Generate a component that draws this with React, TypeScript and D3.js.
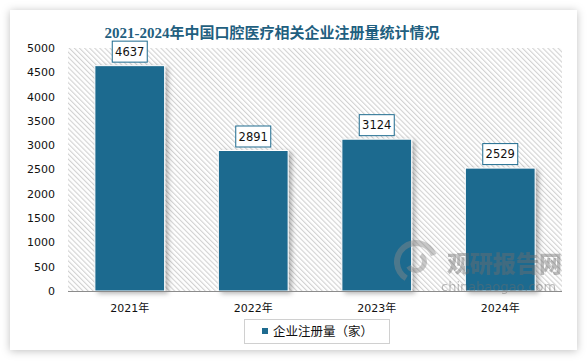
import React, { useRef, useEffect } from 'react';
import * as d3 from 'd3';

const years = ['2021年', '2022年', '2023年', '2024年'];
const counts = [4637, 2891, 3124, 2529];
const yTicks = [0, 500, 1000, 1500, 2000, 2500, 3000, 3500, 4000, 4500, 5000];
const title = '2021-2024年中国口腔医疗相关企业注册量统计情况';
const seriesName = '企业注册量（家）';

const App: React.FC = () => {
  const svgRef = useRef<SVGSVGElement | null>(null);

  useEffect(() => {
    const svg = d3.select(svgRef.current);
    svg.selectAll('*').remove();

    const width = 588;
    const height = 361;
    const margin = { top: 48, right: 26, bottom: 70, left: 68 };
    const barColor = '#1e6b8f';
    const numFont = '"DejaVu Sans", "Noto Sans CJK SC", sans-serif';

    const defs = svg.append('defs');
    const hatch = defs.append('pattern')
      .attr('id', 'hatch')
      .attr('patternUnits', 'userSpaceOnUse')
      .attr('width', 3.6)
      .attr('height', 3.6)
      .attr('patternTransform', 'rotate(-45)');
    hatch.append('rect').attr('width', 3.6).attr('height', 3.6).attr('fill', '#fff');
    hatch.append('rect')
      .attr('x', 0).attr('y', 0).attr('width', 1.1).attr('height', 3.6)
      .attr('fill', '#d2d2d2');

    const cardShadow = defs.append('filter').attr('id', 'cardShadow')
      .attr('x', '-5%').attr('y', '-5%').attr('width', '110%').attr('height', '115%');
    cardShadow.append('feDropShadow')
      .attr('dx', 0).attr('dy', 1).attr('stdDeviation', 4)
      .attr('flood-color', '#000').attr('flood-opacity', 0.25);

    const barShadow = defs.append('filter').attr('id', 'barShadow')
      .attr('x', '-20%').attr('y', '-10%').attr('width', '150%').attr('height', '120%');
    barShadow.append('feDropShadow')
      .attr('dx', 3).attr('dy', 2).attr('stdDeviation', 2.5)
      .attr('flood-color', '#000').attr('flood-opacity', 0.3);

    // card
    svg.append('rect')
      .attr('x', 10).attr('y', 10).attr('width', 567).attr('height', 340)
      .attr('fill', '#fff').attr('filter', 'url(#cardShadow)');

    const xScale = d3.scaleBand<string>()
      .domain(years)
      .range([margin.left, width - margin.right])
      .paddingInner(0.435)
      .paddingOuter(0.2175);

    const yScale = d3.scaleLinear()
      .domain([0, 5000])
      .range([height - margin.bottom, margin.top]);

    // hatched plot background
    svg.append('rect')
      .attr('x', margin.left)
      .attr('y', yScale(5000))
      .attr('width', width - margin.right - margin.left)
      .attr('height', yScale(0) - yScale(5000))
      .attr('fill', 'url(#hatch)');

    // bars
    svg.append('g')
      .selectAll('rect')
      .data(counts)
      .enter()
      .append('rect')
      .attr('x', (_, i) => xScale(years[i]) || 0)
      .attr('y', d => yScale(d))
      .attr('width', xScale.bandwidth())
      .attr('height', d => yScale(0) - yScale(d))
      .attr('fill', barColor)
      .attr('stroke', '#fff')
      .attr('stroke-width', 1)
      .attr('filter', 'url(#barShadow)');

    // watermark (drawn over the bars)
    const wm = svg.append('g').attr('opacity', 0.45);
    wm.append('path')
      .attr('d', d3.arc()({ innerRadius: 16, outerRadius: 22, startAngle: -2.6, endAngle: 1.2 }) as string)
      .attr('transform', 'translate(416,262)')
      .attr('fill', '#8a8a8a');
    wm.append('path')
      .attr('d', d3.arc()({ innerRadius: 6, outerRadius: 11, startAngle: 0.6, endAngle: 4.2 }) as string)
      .attr('transform', 'translate(416,262)')
      .attr('fill', '#8a8a8a');
    wm.append('text')
      .attr('x', 447).attr('y', 272)
      .attr('font-family', '"Noto Sans CJK SC", sans-serif')
      .attr('font-weight', 900)
      .attr('font-size', 23)
      .attr('fill', '#6e6e6e')
      .text('观研报告网');
    wm.append('text')
      .attr('x', 441).attr('y', 291)
      .attr('font-family', '"DejaVu Sans", sans-serif')
      .attr('font-size', 13)
      .attr('fill', '#6e6e6e')
      .text('chinabaogao.com');

    // value labels
    const labels = svg.append('g')
      .selectAll('g')
      .data(counts)
      .enter()
      .append('g')
      .attr('transform', (d, i) => `translate(${(xScale(years[i]) || 0) + xScale.bandwidth() / 2},${yScale(d) - 14})`);
    labels.append('rect')
      .attr('x', -17.5).attr('y', -10.5).attr('width', 35).attr('height', 21)
      .attr('fill', '#fff').attr('stroke', barColor).attr('stroke-width', 1);
    labels.append('text')
      .attr('text-anchor', 'middle')
      .attr('dy', '0.36em')
      .attr('font-family', numFont)
      .attr('font-size', 11.5)
      .attr('fill', '#111')
      .text(d => d);

    // axis line
    svg.append('line')
      .attr('x1', margin.left).attr('x2', width - margin.right)
      .attr('y1', yScale(0) + 0.5).attr('y2', yScale(0) + 0.5)
      .attr('stroke', '#8c8c8c').attr('stroke-width', 1);

    // y ticks
    svg.append('g')
      .selectAll('text')
      .data(yTicks)
      .enter()
      .append('text')
      .attr('x', 55)
      .attr('y', d => yScale(d))
      .attr('dy', '0.36em')
      .attr('text-anchor', 'end')
      .attr('font-family', numFont)
      .attr('font-size', 11)
      .attr('fill', '#111')
      .text(d => d);

    // x labels
    svg.append('g')
      .selectAll('text')
      .data(years)
      .enter()
      .append('text')
      .attr('x', d => (xScale(d) || 0) + xScale.bandwidth() / 2)
      .attr('y', 312)
      .attr('text-anchor', 'middle')
      .attr('font-family', numFont)
      .attr('font-size', 11)
      .attr('fill', '#111')
      .text(d => d);

    // title
    svg.append('text')
      .attr('x', 272).attr('y', 38)
      .attr('text-anchor', 'middle')
      .attr('font-family', '"Liberation Serif", "Noto Sans CJK SC", serif')
      .attr('font-weight', 'bold')
      .attr('font-size', 15)
      .attr('fill', '#1f5f80')
      .text(title);

    // legend
    const legend = svg.append('g');
    legend.append('rect')
      .attr('x', 244.5).attr('y', 319.5).attr('width', 145).attr('height', 24)
      .attr('fill', '#fff').attr('stroke', '#d0d0d0');
    legend.append('rect')
      .attr('x', 262).attr('y', 328).attr('width', 6).attr('height', 6)
      .attr('fill', barColor);
    legend.append('text')
      .attr('x', 273).attr('y', 336)
      .attr('font-family', '"Noto Sans CJK SC", sans-serif')
      .attr('font-size', 12.5)
      .attr('fill', '#111')
      .text(seriesName);
  }, []);

  return (
    <svg
      ref={svgRef}
      width={588}
      height={361}
      style={{ position: 'absolute', left: 0, top: 0, background: '#fff' }}
    ></svg>
  );
};

export default App;
